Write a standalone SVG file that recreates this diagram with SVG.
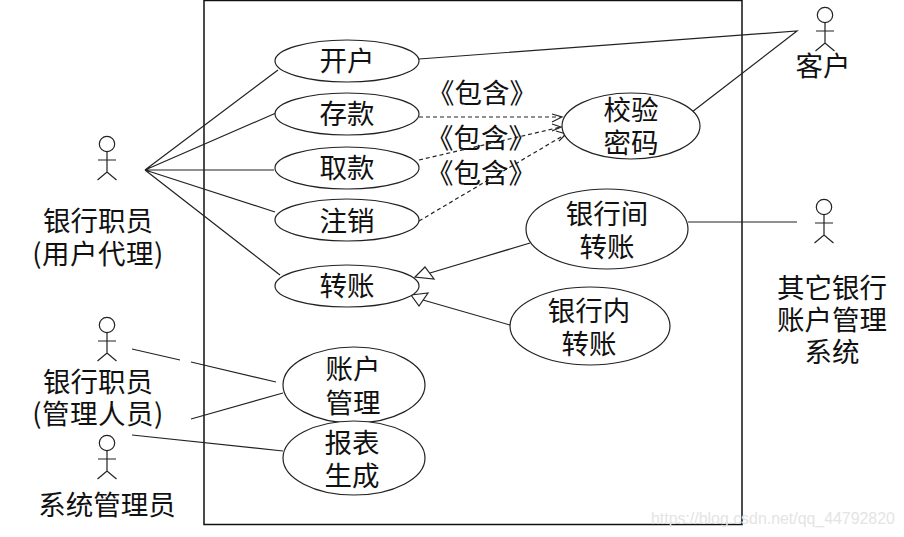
<svg xmlns="http://www.w3.org/2000/svg" width="904" height="537" viewBox="0 0 904 537">
<style>
.t{font-family:"Noto Sans CJK SC","Liberation Sans",sans-serif;font-size:27.5px;fill:#111;text-anchor:middle}
.s{font-family:"Noto Sans CJK SC","Liberation Sans",sans-serif;font-size:27.5px;fill:#111;text-anchor:middle}
.u{fill:#fff;stroke:#222;stroke-width:1.2}
.a{fill:none;stroke:#222;stroke-width:1.2}
.c{fill:none;stroke:#222;stroke-width:1.2}
.d{fill:none;stroke:#222;stroke-width:1.2;stroke-dasharray:4 3}
.h{fill:#fff;stroke:#222;stroke-width:1.2}
</style>
<defs>
<g id="actor" class="a"><circle cx="0" cy="0" r="7.700"/><path d="M0 8V28M-9 16H9M-9.500 36L0 28L9.500 36"/></g>
</defs>
<rect width="904" height="537" fill="#fff"/>
<rect x="204" y="0.500" width="538" height="524" fill="#fff" stroke="#111" stroke-width="1.500"/>
<g id="connectors">
<path class="c" d="M145 170L278 70M145 170L276 113M145 170L274 170M145 170L275 212M145 170L280 275"/>
<path class="c" d="M419 59L797 31L692 112M688 222H797"/>
<path class="c" d="M132 349L180 360M191 362L276 382M191 419L283 393M132 435L283 451"/>
<path class="d" d="M419 117H561M419 160L561 127M419 221L566 134"/>
<path class="c" d="M552 114L562 117L552 122M552 124L561 127L552 131M556 131L566 134L559 141"/>
<path class="c" d="M430 273L530 243M423 300L510 325"/>
<polygon class="h" points="415,277 425,267 434,279"/>
<polygon class="h" points="411,295 428,293 419,306"/>
</g>
<g id="uc-open"><ellipse class="u" cx="347" cy="61" rx="72" ry="21"/><text class="t" x="347" y="71">开户</text></g>
<g id="uc-deposit"><ellipse class="u" cx="347" cy="114" rx="72" ry="21"/><text class="t" x="347" y="124">存款</text></g>
<g id="uc-withdraw"><ellipse class="u" cx="347" cy="168" rx="72" ry="21"/><text class="t" x="347" y="178">取款</text></g>
<g id="uc-cancel"><ellipse class="u" cx="347" cy="220" rx="72" ry="21"/><text class="t" x="347" y="231">注销</text></g>
<g id="uc-transfer"><ellipse class="u" cx="347" cy="286" rx="72" ry="21"/><text class="t" x="347" y="296">转账</text></g>
<g id="uc-verify"><ellipse class="u" cx="631" cy="126" rx="69" ry="33"/><text class="t"><tspan x="631" y="120">校验</tspan><tspan x="631" y="153">密码</tspan></text></g>
<g id="uc-interbank"><ellipse class="u" cx="607" cy="229" rx="81" ry="40"/><text class="t"><tspan x="607" y="224">银行间</tspan><tspan x="607" y="257">转账</tspan></text></g>
<g id="uc-intrabank"><ellipse class="u" cx="590" cy="326" rx="80" ry="39"/><text class="t"><tspan x="589" y="321">银行内</tspan><tspan x="589" y="354">转账</tspan></text></g>
<g id="uc-account"><ellipse class="u" cx="354" cy="385" rx="71" ry="38"/><text class="t"><tspan x="353" y="379">账户</tspan><tspan x="353" y="413">管理</tspan></text></g>
<g id="uc-report"><ellipse class="u" cx="354" cy="458" rx="71" ry="37"/><text class="t"><tspan x="352" y="453">报表</tspan><tspan x="352" y="486">生成</tspan></text></g>
<g id="labels">
<text class="s" x="482" y="103">《包含》</text>
<text class="s" x="481" y="148">《包含》</text>
<text class="s" x="481" y="183">《包含》</text>
</g>
<g id="actor-teller"><use href="#actor" x="107" y="144"/><text class="t"><tspan x="98" y="231">银行职员</tspan><tspan x="98" y="264" letter-spacing="0.500">(用户代理)</tspan></text></g>
<g id="actor-manager"><use href="#actor" x="107" y="325"/><text class="t"><tspan x="98" y="392">银行职员</tspan><tspan x="98" y="424" letter-spacing="0.500">(管理人员)</tspan></text></g>
<g id="actor-admin"><use href="#actor" x="107" y="443"/><text class="t" x="107" y="515">系统管理员</text></g>
<g id="actor-customer"><use href="#actor" x="825" y="15"/><text class="t" x="823" y="76">客户</text></g>
<g id="actor-other"><use href="#actor" x="824" y="207"/><text class="t"><tspan x="832" y="298">其它银行</tspan><tspan x="832" y="330">账户管理</tspan><tspan x="832" y="362">系统</tspan></text></g>
<text x="651" y="524" font-family="Liberation Sans, sans-serif" font-size="15.900" fill="#e4e4e4">https://blog.csdn.net/qq_44792820</text>
</svg>
